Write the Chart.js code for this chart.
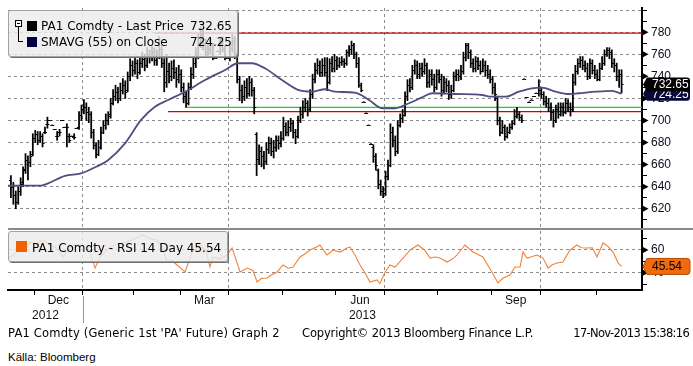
<!DOCTYPE html>
<html lang="en">
<head>
<meta charset="UTF-8">
<title>PA1 Comdty - Last Price</title>
<script src="https://cdn.jsdelivr.net/npm/chart.js"></script>
<style>
  body { margin: 0; background: #fff; width: 693px; height: 366px; overflow: hidden; position: relative; font-family: "DejaVu Sans", sans-serif; }
  canvas { position: absolute; left: 0; }
  #mainChart { top: 0; }
  #rsiChart { top: 229px; }
  .sep { position: absolute; left: 8px; top: 228px; width: 685px; height: 2px; background: #8a8a8a; }
  .box { position: absolute; box-sizing: border-box; border: 1px solid #a2a2a2; border-radius: 3px;
         background: rgba(236, 236, 236, 0.82); box-shadow: 1px 1px 0 #707070; }
  .abs { position: absolute; white-space: nowrap; }
  .leg { font-size: 12px; line-height: 14px; color: #000; }
  .sq { position: absolute; width: 10px; height: 10px; }
  .foot { position: absolute; white-space: nowrap; font-size: 11.5px; line-height: 14px; color: #000; }
</style>
</head>
<body>
<canvas id="mainChart" width="693" height="229"></canvas>
<canvas id="rsiChart" width="693" height="100"></canvas>
<div class="sep"></div>

<!-- price legend -->
<div class="box" style="left:8px; top:10px; width:230px; height:47px;"></div>
<div class="abs" style="left:15px; top:20px; width:5px; height:5px; border:1px solid #000; background:#fff;"></div>
<div class="abs" style="left:17px; top:23px; width:3px; height:1px; background:#000;"></div>
<div class="abs" style="left:18px; top:27px; width:1px; height:15px; background:#000;"></div>
<div class="abs" style="left:18px; top:41px; width:5px; height:1px; background:#000;"></div>
<div class="sq" style="left:27px; top:21px; background:#000;"></div>
<div class="sq" style="left:27px; top:37px; background:#000040;"></div>
<div class="abs leg" style="left:41px; top:19px;">PA1 Comdty - Last Price</div>
<div class="abs leg" id="legLast" style="right:461px; top:19px;"></div>
<div class="abs leg" style="left:41px; top:35px;">SMAVG (55) on Close</div>
<div class="abs leg" id="legSma" style="right:461px; top:35px;"></div>

<!-- rsi legend -->
<div class="box" style="left:8px; top:231px; width:220px; height:31px;"></div>
<div class="sq" style="left:16px; top:241px; width:11px; height:11px; background:#ef6200;"></div>
<div class="abs leg" id="legRsi" style="left:32px; top:241px;"></div>

<div class="foot" style="left:8px; top:326px; letter-spacing:0.2px;">PA1 Comdty (Generic 1st 'PA' Future) Graph 2</div>
<div class="foot" style="left:302px; top:326px; letter-spacing:-0.15px;">Copyright&copy; 2013 Bloomberg Finance L.P.</div>
<div class="foot" style="right:4px; top:326px; letter-spacing:-0.7px;">17-Nov-2013 15:38:16</div>
<div class="foot" style="left:8px; top:350px; font-family:'Liberation Sans', Arial, sans-serif;">Källa: Bloomberg</div>

<script>
// x axis is the trading-day index (0 = 16-Nov-2012, 251 = 15-Nov-2013)
const X_MIN = -1.2, X_MAX = 259.4;
const monthStarts = [9.5, 29.5, 50.5, 69.5, 89.5, 111.5, 133.5, 153.5, 175.5, 197.5, 217.5, 240.5];
const quarterStarts = [29.5, 89.5, 153.5, 217.5];
const monthLabelPos = [19.5, 79.5, 143.5, 207.5];
const monthLabels = ['Dec', 'Mar', 'Jun', 'Sep'];
const yearLabels = ['2012', '2013'];
const yearCenters = [14.2, 144.5];
const yearBreak = 29.5;

const priceTicks = [620, 640, 660, 680, 700, 720, 740, 760, 780];
const priceGrid = [620, 640, 660, 680, 700, 720, 740, 760, 780, 800];
const priceMinor = [610, 630, 650, 670, 690, 710, 730, 750, 770, 790];
const rsiTicks = [40, 60];
const rsiMinor = [30, 50, 70];

// daily OHLC
const opens = [
  646, 640, 632, 626, 636, 644, 656, 664, 662, 670,
  684, 688, 682, 686, 690, 697, 700, 696, 692, 686,
  690, 700, 694, 694, 686, 686, 685, 693, 694, 705,
  710, 712, 708, 706, 690, 678, 670, 676, 690, 696,
  700, 706, 716, 722, 726, 720, 728, 732, 728, 740,
  750, 746, 752, 744, 752, 756, 750, 760, 758, 762,
  755, 760, 765, 752, 735, 745, 740, 748, 744, 738,
  742, 730, 722, 716, 730, 742, 752, 760, 770, 778,
  770, 762, 765, 768, 757, 763, 763, 770, 765, 757,
  757, 766, 772, 760, 738, 728, 722, 730, 725, 735,
  728, 688, 665, 672, 668, 663, 674, 680, 672, 676,
  682, 680, 684, 695, 690, 694, 698, 690, 686, 700,
  706, 712, 716, 710, 724, 738, 746, 750, 744, 750,
  744, 735, 752, 748, 755, 750, 753, 754, 752, 762,
  765, 768, 760, 752, 732, 717, 707, 696, 679, 676,
  668, 655, 642, 636, 634, 650, 660, 690, 682, 672,
  696, 702, 705, 722, 732, 730, 746, 750, 742, 748,
  745, 750, 735, 742, 738, 730, 742, 738, 728, 735,
  732, 724, 728, 740, 742, 740, 745, 758, 768, 762,
  752, 748, 754, 750, 745, 750, 746, 742, 738, 730,
  720, 700, 690, 694, 686, 690, 694, 698, 704, 706,
  703, 738, 721, 717, 719, 722, 725, 725, 728, 724,
  718, 716, 712, 708, 700, 710, 706, 712, 708, 716,
  712, 710, 735, 745, 752, 755, 750, 748, 740, 752,
  746, 742, 738, 748, 752, 760, 764, 762, 752, 750,
  740, 742
];
const highs = [
  650, 644, 636, 640, 648, 658, 670, 668, 672, 688,
  691, 690, 690, 688, 694, 703, 700, 696, 692, 690,
  692, 700, 694, 697, 688, 686, 688, 693, 708, 714,
  719, 716, 712, 708, 692, 680, 682, 694, 700, 706,
  708, 720, 728, 732, 730, 734, 738, 736, 744, 756,
  754, 757, 755, 758, 762, 760, 766, 764, 768, 766,
  764, 776, 768, 756, 760, 752, 754, 755, 748, 750,
  746, 734, 726, 734, 748, 758, 766, 778, 785, 782,
  774, 770, 774, 770, 757, 763, 774, 776, 768, 757,
  770, 778, 776, 762, 740, 732, 736, 738, 740, 738,
  730, 689, 678, 676, 672, 680, 685, 684, 682, 686,
  686, 690, 703, 698, 700, 702, 700, 692, 704, 712,
  718, 720, 718, 728, 742, 752, 756, 754, 756, 757,
  757, 756, 758, 760, 758, 757, 758, 756, 764, 768,
  772, 770, 762, 757, 734, 717, 707, 696, 679, 678,
  670, 656, 646, 640, 654, 664, 697, 694, 686, 700,
  706, 710, 726, 737, 738, 750, 755, 754, 752, 752,
  756, 752, 746, 746, 742, 746, 746, 742, 740, 738,
  736, 732, 744, 746, 746, 750, 762, 770, 770, 764,
  756, 758, 757, 754, 756, 754, 750, 746, 740, 734,
  722, 703, 700, 696, 694, 697, 700, 710, 712, 708,
  705, 738, 721, 717, 719, 722, 725, 737, 730, 726,
  722, 720, 716, 710, 714, 716, 716, 716, 720, 719,
  716, 742, 750, 756, 758, 758, 754, 752, 756, 755,
  750, 746, 752, 758, 764, 766, 766, 764, 756, 752,
  746, 746
];
const lows = [
  630, 624, 620, 624, 632, 640, 652, 646, 658, 668,
  680, 678, 680, 676, 688, 693, 700, 696, 692, 682,
  686, 700, 694, 676, 680, 686, 683, 693, 692, 700,
  706, 700, 698, 684, 674, 666, 668, 674, 688, 692,
  696, 702, 714, 718, 716, 718, 724, 720, 726, 736,
  740, 742, 738, 742, 748, 745, 748, 752, 754, 750,
  750, 756, 748, 726, 730, 734, 736, 738, 730, 734,
  726, 716, 712, 714, 728, 738, 748, 756, 766, 764,
  758, 757, 760, 755, 757, 763, 760, 762, 755, 757,
  754, 762, 756, 734, 718, 716, 718, 720, 722, 722,
  706, 650, 660, 658, 656, 660, 670, 668, 666, 672,
  674, 676, 682, 686, 686, 690, 684, 679, 684, 698,
  702, 708, 704, 708, 720, 734, 742, 740, 740, 740,
  727, 733, 744, 744, 746, 748, 750, 748, 750, 758,
  760, 756, 748, 730, 726, 717, 707, 696, 679, 662,
  655, 638, 632, 630, 632, 646, 658, 676, 668, 670,
  694, 698, 704, 718, 726, 728, 742, 738, 738, 740,
  742, 730, 730, 732, 726, 728, 734, 722, 724, 726,
  719, 720, 726, 736, 736, 737, 742, 754, 756, 748,
  744, 744, 746, 742, 744, 740, 738, 734, 724, 718,
  696, 686, 688, 682, 684, 688, 692, 696, 702, 700,
  698, 738, 721, 717, 719, 722, 725, 722, 720, 714,
  712, 708, 700, 694, 698, 702, 704, 704, 706, 708,
  704, 708, 732, 742, 748, 746, 744, 737, 738, 742,
  738, 736, 736, 746, 750, 758, 756, 748, 744, 736,
  730, 725
];
const closes = [
  640, 632, 626, 636, 642, 655, 664, 662, 668, 684,
  688, 682, 686, 680, 690, 697, 700, 696, 692, 686,
  690, 700, 694, 694, 682, 686, 685, 693, 705, 710,
  712, 708, 706, 690, 678, 670, 676, 690, 696, 700,
  704, 716, 722, 726, 720, 728, 732, 726, 740, 750,
  746, 752, 744, 752, 756, 750, 760, 758, 762, 755,
  760, 765, 752, 735, 745, 740, 748, 744, 738, 742,
  730, 722, 716, 730, 742, 752, 760, 770, 778, 770,
  762, 765, 768, 758, 757, 763, 770, 765, 758, 757,
  766, 772, 760, 738, 728, 722, 730, 725, 735, 728,
  712, 665, 672, 668, 663, 674, 680, 672, 676, 682,
  680, 684, 695, 690, 694, 698, 690, 686, 700, 706,
  712, 716, 710, 724, 738, 746, 750, 744, 750, 744,
  735, 752, 748, 755, 750, 753, 754, 752, 762, 765,
  768, 760, 752, 732, 728, 717, 707, 696, 679, 668,
  660, 642, 636, 634, 650, 660, 690, 682, 672, 696,
  702, 705, 722, 732, 730, 746, 750, 742, 748, 745,
  750, 735, 742, 738, 730, 742, 738, 728, 735, 732,
  724, 728, 740, 742, 740, 745, 758, 768, 762, 752,
  748, 754, 750, 745, 750, 746, 742, 738, 730, 724,
  700, 690, 694, 686, 690, 694, 698, 704, 706, 703,
  700, 738, 721, 717, 719, 722, 725, 728, 724, 718,
  716, 712, 708, 700, 710, 706, 712, 708, 716, 712,
  710, 735, 745, 752, 755, 750, 748, 740, 752, 746,
  742, 738, 748, 752, 760, 764, 762, 752, 750, 740,
  742, 732.65
];

// 55-day simple moving average
const smaIdx = [-1.2, 12.4, 15.3, 22.2, 28.8, 35, 39.9, 46.9, 53.5, 59.2, 64.6, 71.6, 79.8, 88, 93.3, 99.1,
  104.4, 111.4, 118, 123.8, 129.1, 133.2, 141.4, 147.2, 152.5, 157.9, 163.6, 169, 173.1, 182.5, 193.6,
  197.6, 203.4, 208.8, 214.1, 218.2, 224, 229.3, 233.4, 240.5, 247.1, 251];
const smaVals = [640.9, 640.9, 643, 649.7, 652, 658, 664, 679.3, 700.5, 712.5, 718.6, 726, 736.7, 745.8, 751.9, 751.9,
  747.3, 736.7, 727.7, 726.1, 728.3, 726.1, 725.2, 718.6, 711.1, 711.1, 715.6, 721, 724.7, 724, 723.1,
  721.6, 721.6, 726.1, 729.2, 729.8, 726.1, 724, 724.7, 726.1, 726.8, 724.25];

// RSI 14 day
const rsiIdx = [
  -1.2, 1.5, 3.7, 6, 7.9, 10.5, 13.2, 16.1, 18.5, 21.4,
  23.5, 25.5, 29.6, 32.5, 34.6, 36.6, 40.7, 44, 47.7, 51,
  54.3, 57, 60, 62, 64.2, 66, 68.3, 71.6, 74.4, 77.7,
  80, 81.8, 83.1, 86, 88.8, 90.9, 94.2, 97.1, 99.5, 101.2,
  103, 105.3, 107, 109.4, 111.8, 114, 116, 118.8, 120.5, 122.9,
  125, 127, 129.9, 132.4, 135.3, 138.1, 139.4, 141.4, 143.5, 145.5,
  147.6, 150.5, 151.7, 153.8, 155.8, 157.9, 161.2, 164.1, 167.3, 170,
  172.3, 174.3, 176.4, 179.3, 181.5, 183.4, 186.6, 189.9, 192, 194,
  197.7, 200.2, 202.3, 205.1, 207.2, 209.3, 210.5, 212.1, 214, 216.2,
  218.7, 220.8, 222.5, 224.5, 226.9, 229.8, 232.7, 234.5, 236.8, 239,
  240.9, 243.4, 245.5, 247.5, 249.6, 251
];
const rsiVals = [
  52.9, 56, 61.8, 60, 67, 65, 68.8, 64.4, 62, 53.9,
  60, 64.4, 64.4, 58.2, 44.1, 53.8, 62.6, 65, 67, 70,
  73.2, 70, 68.8, 63, 49.4, 51, 46.8, 40.6, 58.2, 64.4,
  60, 45, 53.8, 52, 55.6, 61.8, 40.6, 44.1, 42, 31.8,
  35, 35.3, 38, 40.6, 46.8, 44, 45, 53.8, 56, 60,
  62, 64.4, 55.6, 60, 58.2, 61.8, 62.6, 55.6, 46.8, 40,
  31.8, 33.6, 30.5, 40.6, 46.8, 45, 52.9, 60, 64.4, 60,
  52.9, 53.8, 52.9, 49.4, 52, 55.6, 64.4, 58.2, 56, 53.8,
  40.6, 31, 35.3, 38, 45, 45, 58.2, 52.9, 54, 55.6,
  52.9, 44.1, 47, 48.5, 49.4, 60, 64.4, 62, 61.8, 62,
  53.8, 66.2, 63, 58.2, 48.5, 45.54
];

// horizontal level lines drawn on the price panel
const levelVals = [779.3, 711.9, 708.1];
const levelFrom = [59.2, 71.6, 64.6];
const levelColors = ['#d60000', '#22d422', '#d60000'];

const lastClose = closes[closes.length - 1];
const lastSma = smaVals[smaVals.length - 1];
const lastRsi = rsiVals[rsiVals.length - 1];

document.getElementById('legLast').textContent = lastClose.toFixed(2);
document.getElementById('legSma').textContent = lastSma.toFixed(2);
document.getElementById('legRsi').textContent = 'PA1 Comdty - RSI 14 Day ' + lastRsi.toFixed(2);

Chart.defaults.color = '#111';
Chart.defaults.font.family = "'Liberation Sans', Arial, sans-serif";
Chart.defaults.font.size = 12;

const clear = 'rgba(0,0,0,0)';
const gridGray = '#8c8c8c';

// open / close ticks of the OHLC bars
const ohlcTicks = {
  id: 'ohlcTicks',
  afterDatasetsDraw(chart) {
    const {ctx, chartArea, scales: {x, y}} = chart;
    ctx.save();
    ctx.beginPath();
    ctx.rect(chartArea.left, chartArea.top, chartArea.right - chartArea.left, chartArea.bottom - chartArea.top);
    ctx.clip();
    ctx.strokeStyle = '#000';
    ctx.lineWidth = 1;
    ctx.beginPath();
    closes.forEach((c, i) => {
      const px = x.getPixelForValue(i);
      const po = Math.round(y.getPixelForValue(opens[i])) + 0.5;
      const pc = Math.round(y.getPixelForValue(c)) + 0.5;
      ctx.moveTo(px - 2, po); ctx.lineTo(px, po);
      ctx.moveTo(px, pc); ctx.lineTo(px + 2, pc);
    });
    ctx.stroke();
    ctx.restore();
  }
};

function axisArrows(labelled) {
  return {
    id: 'axisArrows',
    afterDraw(chart) {
      const {ctx} = chart;
      const y = chart.scales.y;
      ctx.save();
      ctx.fillStyle = '#000';
      labelled.forEach(v => {
        const py = y.getPixelForValue(v);
        ctx.beginPath();
        ctx.moveTo(y.left, py - 3.5);
        ctx.lineTo(y.left + 6.5, py);
        ctx.lineTo(y.left, py + 3.5);
        ctx.closePath();
        ctx.fill();
      });
      ctx.restore();
    }
  };
}

function drawTag(ctx, x0, yc, h, fill, stroke, textColor, text) {
  const w = 47, tip = 4, r = 3;
  ctx.save();
  ctx.beginPath();
  ctx.moveTo(x0, yc);
  ctx.lineTo(x0 + tip, yc - h / 2);
  ctx.lineTo(x0 + w - r, yc - h / 2);
  ctx.quadraticCurveTo(x0 + w, yc - h / 2, x0 + w, yc - h / 2 + r);
  ctx.lineTo(x0 + w, yc + h / 2 - r);
  ctx.quadraticCurveTo(x0 + w, yc + h / 2, x0 + w - r, yc + h / 2);
  ctx.lineTo(x0 + tip, yc + h / 2);
  ctx.closePath();
  ctx.fillStyle = fill;
  ctx.fill();
  if (stroke) { ctx.strokeStyle = stroke; ctx.lineWidth = 1; ctx.stroke(); }
  ctx.fillStyle = textColor;
  ctx.font = "12px 'Liberation Sans', Arial, sans-serif";
  ctx.textBaseline = 'middle';
  ctx.textAlign = 'left';
  ctx.fillText(text, x0 + 9, yc + 0.5);
  ctx.restore();
}

const priceTags = {
  id: 'priceTags',
  afterDraw(chart) {
    const y = chart.scales.y;
    drawTag(chart.ctx, y.left + 1, y.getPixelForValue(lastSma), 14, '#07073a', null, '#fff', lastSma.toFixed(2));
    drawTag(chart.ctx, y.left + 1, y.getPixelForValue(lastClose), 14, '#000', null, '#fff', lastClose.toFixed(2));
  }
};

const rsiTag = {
  id: 'rsiTag',
  afterDraw(chart) {
    const y = chart.scales.y;
    drawTag(chart.ctx, y.left + 1, y.getPixelForValue(lastRsi), 16, '#f06a0e', '#b84a00', '#000', lastRsi.toFixed(2));
  }
};

const yearRow = {
  id: 'yearRow',
  afterDraw(chart) {
    const {ctx} = chart;
    const x = chart.scales.x;
    ctx.save();
    ctx.strokeStyle = '#9a9a9a';
    ctx.lineWidth = 1;
    const bx = Math.round(x.getPixelForValue(yearBreak)) + 0.5;
    ctx.beginPath();
    ctx.moveTo(bx, x.top + 6);
    ctx.lineTo(bx, x.top + 33);
    ctx.stroke();
    ctx.fillStyle = '#111';
    ctx.font = "12px 'Liberation Sans', Arial, sans-serif";
    ctx.textAlign = 'center';
    ctx.textBaseline = 'middle';
    yearLabels.forEach((t, k) => ctx.fillText(t, x.getPixelForValue(yearCenters[k]), x.top + 26));
    ctx.restore();
  }
};

const commonOpts = {
  responsive: false,
  animation: false,
  events: [],
  plugins: { legend: { display: false }, tooltip: { enabled: false } }
};

// price panel
new Chart(document.getElementById('mainChart'), {
  type: 'bar',
  data: {
    datasets: [
      {
        type: 'line',
        label: 'SMAVG (55) on Close',
        data: smaIdx.map((v, k) => ({ x: v, y: smaVals[k] })),
        borderColor: '#4e4e80',
        borderWidth: 1.8,
        pointRadius: 0,
        cubicInterpolationMode: 'monotone',
        order: 0
      },
      {
        label: 'PA1 Comdty - Last Price',
        data: highs.map((h, i) => ({ x: i, y: [lows[i], h] })),
        backgroundColor: '#000',
        barThickness: 1.1,
        order: 1
      },
      ...levelVals.map((v, k) => ({
        type: 'line',
        label: 'level ' + k,
        data: [{ x: levelFrom[k], y: v }, { x: X_MAX, y: v }],
        borderColor: levelColors[k],
        borderWidth: 1.3,
        pointRadius: 0,
        order: 2
      }))
    ]
  },
  options: {
    ...commonOpts,
    layout: { padding: { left: 8, top: 8, right: 0, bottom: 1 } },
    scales: {
      x: {
        type: 'linear', min: X_MIN, max: X_MAX, offset: false,
        afterBuildTicks: s => { s.ticks = quarterStarts.map(v => ({ value: v })); },
        afterFit: s => { s.height = 0; s.paddingLeft = 0; s.paddingRight = 0; },
        ticks: { display: false },
        grid: { offset: false, color: gridGray, lineWidth: 1, drawTicks: false },
        border: { display: false, dash: [3, 3] }
      },
      y: {
        type: 'linear', position: 'right', min: 602.5, max: 802,
        afterBuildTicks: s => {
          s.ticks = [...priceGrid, ...priceMinor].sort((a, b) => a - b).map(v => ({ value: v }));
        },
        afterFit: s => { s.width = 51; s.paddingTop = 0; s.paddingBottom = 0; },
        ticks: {
          autoSkip: false, padding: 4, color: '#0c0c20',
          callback: v => priceTicks.includes(v) ? String(v) : ''
        },
        grid: {
          color: c => (c.tick && priceGrid.includes(c.tick.value)) ? gridGray : clear,
          lineWidth: 1, tickColor: '#000', tickLength: 5, tickWidth: 1, tickBorderDash: []
        },
        border: { color: '#000', width: 2, dash: [3, 3] }
      }
    }
  },
  plugins: [ohlcTicks, axisArrows(priceTicks), priceTags]
});

// RSI panel
new Chart(document.getElementById('rsiChart'), {
  type: 'line',
  data: {
    datasets: [{
      label: 'PA1 Comdty - RSI 14 Day',
      data: rsiIdx.map((v, k) => ({ x: v, y: rsiVals[k] })),
      borderColor: '#f2823a',
      borderWidth: 1.1,
      pointRadius: 0
    }]
  },
  options: {
    ...commonOpts,
    layout: { padding: { left: 8, top: 2, right: 0, bottom: 0 } },
    scales: {
      x: {
        type: 'linear', min: X_MIN, max: X_MAX, offset: false,
        afterBuildTicks: s => {
          s.ticks = [...monthStarts, ...monthLabelPos].sort((a, b) => a - b).map(v => ({ value: v }));
        },
        afterFit: s => { s.height = 39; s.paddingLeft = 0; s.paddingRight = 0; },
        ticks: {
          autoSkip: false, maxRotation: 0, minRotation: 0, padding: -2,
          callback: v => { const k = monthLabelPos.indexOf(v); return k >= 0 ? monthLabels[k] : ''; }
        },
        grid: {
          offset: false,
          color: c => (c.tick && quarterStarts.includes(c.tick.value)) ? gridGray : clear,
          tickColor: c => (c.tick && monthStarts.includes(c.tick.value)) ? '#000' : clear,
          lineWidth: 1, tickLength: 5, tickWidth: 1, tickBorderDash: []
        },
        border: { color: '#000', width: 2, dash: [3, 3] }
      },
      y: {
        type: 'linear', position: 'right', min: 24.8, max: 76.7,
        afterBuildTicks: s => {
          s.ticks = [...rsiTicks, ...rsiMinor].sort((a, b) => a - b).map(v => ({ value: v }));
        },
        afterFit: s => { s.width = 51; s.paddingTop = 0; s.paddingBottom = 0; },
        ticks: {
          autoSkip: false, padding: 4, color: '#0c0c20',
          callback: v => rsiTicks.includes(v) ? String(v) : ''
        },
        grid: {
          color: c => (c.tick && rsiTicks.includes(c.tick.value)) ? gridGray : clear,
          lineWidth: 1, tickColor: '#000', tickLength: 5, tickWidth: 1, tickBorderDash: []
        },
        border: { color: '#000', width: 2, dash: [3, 3] }
      }
    }
  },
  plugins: [axisArrows(rsiTicks), rsiTag, yearRow]
});
</script>
</body>
</html>
